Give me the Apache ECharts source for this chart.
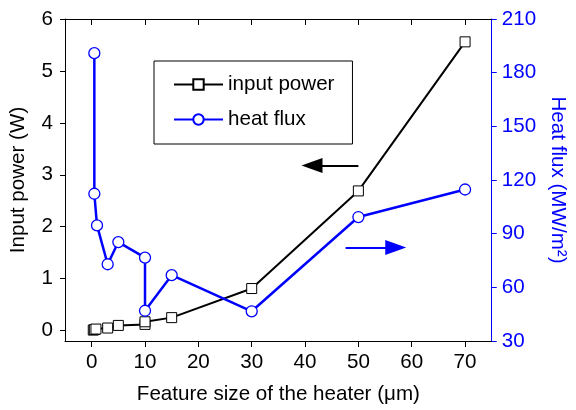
<!DOCTYPE html>
<html>
<head>
<meta charset="utf-8">
<script src="https://cdn.jsdelivr.net/npm/echarts@6/dist/echarts.min.js"></script>
<style>html,body{margin:0;padding:0;background:#fff}#c{width:576px;height:410px}</style>
</head>
<body>
<div id="c"></div>
<script>
const featureSize = [0.5, 0.5, 1, 3, 5, 10, 10, 15, 30, 50, 70];
const inputPower = [0.01, 0.02, 0.03, 0.05, 0.1, 0.12, 0.17, 0.25, 0.81, 2.69, 5.56];
const powerX = [0.3, 0.5, 0.8, 3, 5, 10, 10, 15, 30, 50, 70];
const heatFlux = [190.9, 112.3, 94.6, 72.9, 85.3, 76.6, 46.9, 66.8, 46.6, 99.3, 114.7];
const xTicks = [0, 10, 20, 30, 40, 50, 60, 70];
const yLeftTicks = [0, 1, 2, 3, 4, 5, 6];
const arrowLeft = [[50, 3.18], [41.3, 3.18]];
const arrowRight = [[47.6, 82.2], [57, 82.2]];

const FONT = 'Liberation Sans';
const FS = 20.6;
const chart = echarts.init(document.getElementById('c'), null, {renderer: 'canvas'});
const powerData = powerX.map((x, i) => [x, inputPower[i]]);
const fluxData = featureSize.map((x, i) => [x, heatFlux[i]]);

chart.setOption({
  animation: false,
  textStyle: {fontFamily: FONT},
  grid: {left: 64, right: 76, top: 19, bottom: 68, containLabel: false},
  legend: {
    orient: 'vertical', left: 154, top: 61,
    padding: [13, 18, 14, 19],
    itemWidth: 49, itemHeight: 13, itemGap: 14,
    borderColor: '#000', borderWidth: 1, backgroundColor: '#fff',
    textStyle: {fontFamily: FONT, fontSize: FS, color: '#000'},
    data: ['input power', 'heat flux']
  },
  xAxis: [{
    type: 'value', min: -5, max: 75, position: 'bottom',
    name: 'Feature size of the heater (\u03bcm)', nameLocation: 'middle', nameGap: 43,
    nameTextStyle: {fontFamily: FONT, fontSize: FS, color: '#000'},
    axisLine: {show: true, onZero: false, lineStyle: {color: '#000', width: 1}},
    axisTick: {show: true, inside: false, length: 6, customValues: xTicks, lineStyle: {color: '#000'}},
    axisLabel: {customValues: xTicks, margin: 11, fontFamily: FONT, fontSize: FS, color: '#000'},
    splitLine: {show: false}
  }, {
    type: 'value', min: -5, max: 75, position: 'top',
    axisLine: {show: true, onZero: false, lineStyle: {color: '#000', width: 1}},
    axisTick: {show: true, inside: true, length: 6, customValues: xTicks, lineStyle: {color: '#000'}},
    axisLabel: {show: false},
    splitLine: {show: false}
  }],
  yAxis: [{
    type: 'value', min: -0.2, max: 6, position: 'left',
    name: 'Input power (W)', nameLocation: 'middle', nameGap: 36,
    nameTextStyle: {fontFamily: FONT, fontSize: FS, color: '#000'},
    axisLine: {show: true, onZero: false, lineStyle: {color: '#000', width: 1}},
    axisTick: {show: true, inside: false, length: 5, customValues: yLeftTicks, lineStyle: {color: '#000'}},
    axisLabel: {customValues: yLeftTicks, margin: 12, fontFamily: FONT, fontSize: FS, color: '#000'},
    splitLine: {show: false}
  }, {
    type: 'value', min: 30, max: 210, interval: 30, position: 'right',
    name: 'Heat flux (MW/m\u00b2)', nameLocation: 'middle', nameGap: 48, nameRotate: -90,
    nameTextStyle: {fontFamily: FONT, fontSize: FS, color: '#0000ff'},
    axisLine: {show: true, onZero: false, lineStyle: {color: '#0000ff', width: 1}},
    axisTick: {show: true, inside: false, length: 5, lineStyle: {color: '#0000ff'}},
    axisLabel: {margin: 10, fontFamily: FONT, fontSize: FS, color: '#0000ff'},
    splitLine: {show: false}
  }],
  series: [{
    name: 'input power', type: 'line', xAxisIndex: 0, yAxisIndex: 0,
    data: powerData,
    symbol: 'rect', symbolSize: 10, showAllSymbol: true,
    lineStyle: {color: '#000', width: 2},
    itemStyle: {color: '#fff', borderColor: '#000', borderWidth: 1},
    z: 2,
    markLine: {
      silent: true, symbol: ['none', 'triangle'], symbolSize: [15, 21],
      lineStyle: {color: '#000', width: 2, type: 'solid'},
      label: {show: false},
      data: [[{coord: arrowLeft[0]}, {coord: arrowLeft[1]}]]
    }
  }, {
    name: 'heat flux', type: 'line', xAxisIndex: 0, yAxisIndex: 1,
    data: fluxData,
    symbol: 'circle', symbolSize: 11, showAllSymbol: true,
    lineStyle: {color: '#0000ff', width: 2.5},
    itemStyle: {color: '#fff', borderColor: '#0000ff', borderWidth: 1.3},
    z: 3,
    markLine: {
      silent: true, symbol: ['none', 'triangle'], symbolSize: [15, 21],
      lineStyle: {color: '#0000ff', width: 2, type: 'solid'},
      label: {show: false},
      data: [[{coord: arrowRight[0]}, {coord: arrowRight[1]}]]
    }
  }]
});
</script>
</body>
</html>
